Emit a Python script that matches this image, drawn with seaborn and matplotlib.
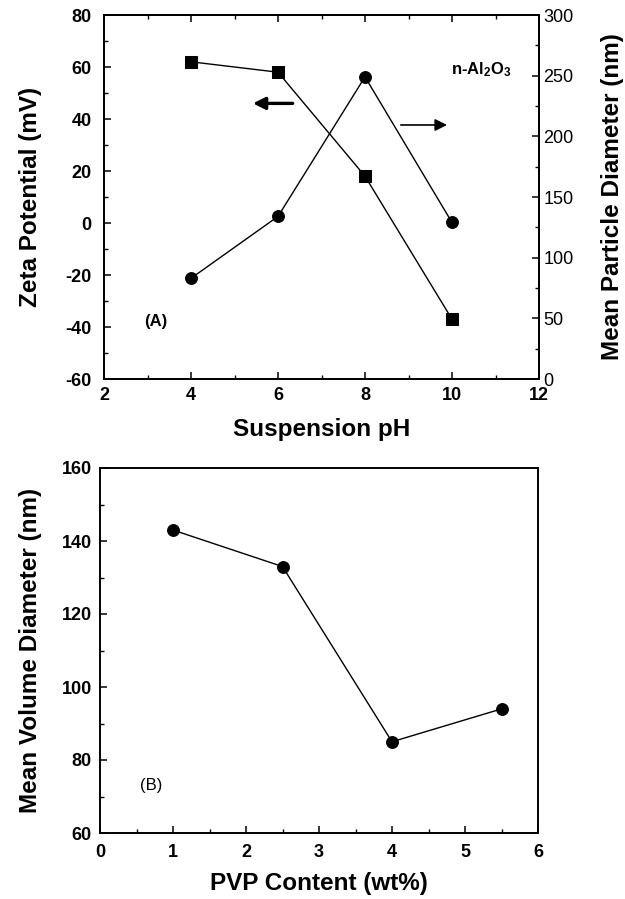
import matplotlib
matplotlib.use("Agg")
import matplotlib.pyplot as plt
import seaborn as sns
from matplotlib.ticker import MultipleLocator

sns.set_style("ticks")
plt.rcParams['font.family'] = ['Liberation Sans', 'DejaVu Sans']
plt.rcParams['font.weight'] = 'bold'
plt.rcParams['axes.labelweight'] = 'bold'
plt.rcParams['axes.unicode_minus'] = False
plt.rcParams['text.color'] = 'black'
plt.rcParams['axes.labelcolor'] = 'black'
plt.rcParams['xtick.color'] = 'black'
plt.rcParams['ytick.color'] = 'black'
plt.rcParams['mathtext.fontset'] = 'custom'
plt.rcParams['mathtext.rm'] = 'Liberation Sans'
plt.rcParams['mathtext.bf'] = 'Liberation Sans:bold'
plt.rcParams['mathtext.default'] = 'bf'

# Panel A data
ph = [4, 6, 8, 10]
zeta_mv = [62, 58, 18, -37]
particle_diam_nm = [83, 134, 249, 129]

# Panel B data
pvp_wt = [1, 2.5, 4, 5.5]
volume_diam_nm = [143, 133, 85, 94]

W, H = 625, 899
fig = plt.figure(figsize=(W / 100, H / 100), dpi=100)

LABEL_FS = 17.5
TICK_FS = 13

def style_axis(ax):
    for s in ax.spines.values():
        s.set_linewidth(1.4)
        s.set_color('black')
    ax.tick_params(which='both', direction='in', colors='black', labelsize=TICK_FS)
    ax.tick_params(which='major', length=5, width=1.1)
    ax.tick_params(which='minor', length=3, width=1.0)

def bold_ticks(ax):
    for lab in ax.get_xticklabels() + ax.get_yticklabels():
        lab.set_fontweight('bold')

# ---------- Panel A ----------
axA = fig.add_axes([104 / W, 1 - 379 / H, 435 / W, 364 / H])
sns.lineplot(x=ph, y=zeta_mv, ax=axA, color='black', marker='s', markersize=8,
             markeredgecolor='black', linewidth=1.0)
axA.set_xlim(2, 12)
axA.set_ylim(-60, 80)
axA.xaxis.set_major_locator(MultipleLocator(2))
axA.xaxis.set_minor_locator(MultipleLocator(1))
axA.yaxis.set_major_locator(MultipleLocator(20))
axA.yaxis.set_minor_locator(MultipleLocator(10))
style_axis(axA)
axA.tick_params(which='both', top=True)
axA.tick_params(axis='y', pad=9)
axA.tick_params(axis='x', pad=6)
axA.set_xlabel('Suspension pH', fontsize=LABEL_FS, fontweight='bold', labelpad=10)
axA.set_ylabel('Zeta Potential (mV)', fontsize=LABEL_FS, fontweight='bold', labelpad=17)
bold_ticks(axA)

axA2 = axA.twinx()
sns.lineplot(x=ph, y=particle_diam_nm, ax=axA2, color='black', marker='o', markersize=8.5,
             markeredgecolor='black', linewidth=1.0)
axA2.set_ylim(0, 300)
axA2.yaxis.set_major_locator(MultipleLocator(50))
axA2.yaxis.set_minor_locator(MultipleLocator(25))
style_axis(axA2)
axA2.tick_params(axis='y', pad=3)
axA2.set_ylabel('Mean Particle Diameter (nm)', fontsize=LABEL_FS, fontweight='bold', labelpad=20)
for lab in axA2.get_yticklabels():
    lab.set_fontweight('normal')

axA.annotate('', xy=(5.36, 46), xytext=(6.4, 46),
             arrowprops=dict(arrowstyle='-|>', color='black', lw=2.4, mutation_scale=18))
axA.annotate('', xy=(9.95, 37.7), xytext=(8.76, 37.7),
             arrowprops=dict(arrowstyle='-|>', color='black', lw=1.2, mutation_scale=18))
axA.text(9.98, 59, 'n-Al$_\\mathbf{2}$O$_\\mathbf{3}$', fontsize=12, fontweight='bold',
         va='center', ha='left')
axA.text(2.92, -38, '(A)', fontsize=12, fontweight='bold', va='center', ha='left')

# ---------- Panel B ----------
axB = fig.add_axes([100 / W, 1 - 833 / H, 438 / W, 365 / H])
sns.lineplot(x=pvp_wt, y=volume_diam_nm, ax=axB, color='black', marker='o', markersize=8.5,
             markeredgecolor='black', linewidth=1.0)
axB.set_xlim(0, 6)
axB.set_ylim(60, 160)
axB.xaxis.set_major_locator(MultipleLocator(1))
axB.xaxis.set_minor_locator(MultipleLocator(0.5))
axB.yaxis.set_major_locator(MultipleLocator(20))
axB.yaxis.set_minor_locator(MultipleLocator(10))
style_axis(axB)
axB.tick_params(axis='y', pad=6)
axB.tick_params(axis='x', pad=8)
axB.set_xlabel('PVP Content (wt%)', fontsize=LABEL_FS, fontweight='bold', labelpad=8)
axB.set_ylabel('Mean Volume Diameter (nm)', fontsize=LABEL_FS, fontweight='bold', labelpad=14)
bold_ticks(axB)
axB.text(0.55, 73, '(B)', fontsize=12, fontweight='normal', va='center', ha='left')

fig.savefig('out.png', dpi=100, facecolor='white')
